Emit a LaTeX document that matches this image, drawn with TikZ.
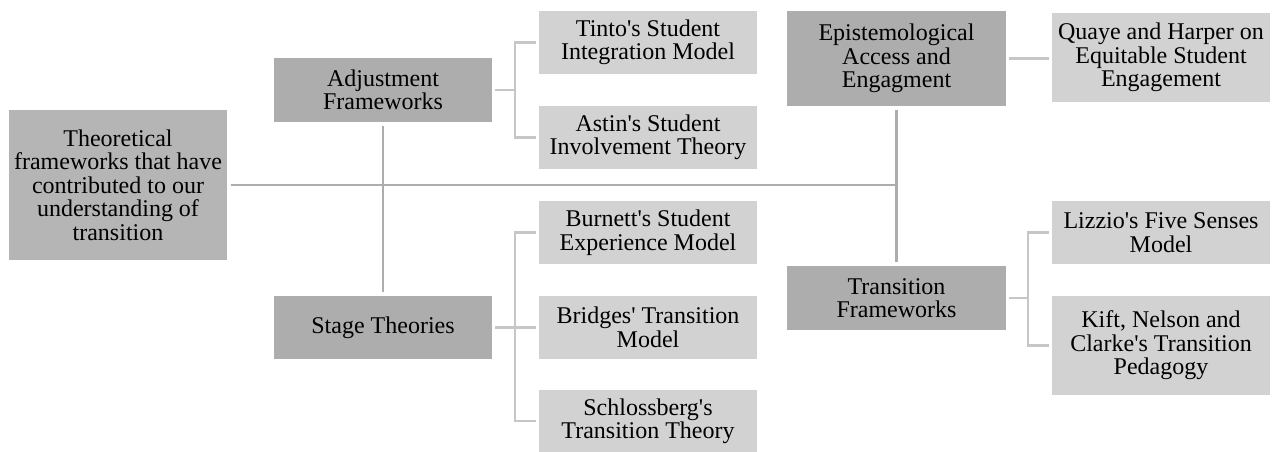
\documentclass[tikz,border=0pt]{standalone}
\usepackage{fontspec}
\setmainfont{Liberation Serif}[Ligatures=TeXOff]
\definecolor{darkbox}{HTML}{ADADAD}
\definecolor{rootbox}{HTML}{B5B5B5}
\definecolor{lightbox}{HTML}{D2D2D2}
\definecolor{mainln}{HTML}{ADADAD}
\definecolor{brln}{HTML}{C6C6C6}
\begin{document}
\begin{tikzpicture}[x=0.75pt,y=-0.75pt,
  base/.style={rectangle, inner sep=0pt, align=center, text=black,
    font=\fontsize{18}{17.6}\selectfont},
  dbox/.style={base, fill=darkbox},
  rbox/.style={base, fill=rootbox},
  lbox/.style={base, fill=lightbox},
  mainline/.style={draw=mainln, line width=2pt, shorten <=2.5pt, shorten >=2.5pt},
  brline/.style={draw=brln, line width=1.6pt, shorten <=2.2pt, shorten >=2.2pt}]
\useasboundingbox (0,0) rectangle (1280,452);
% nodes
\node[rbox, minimum width=218*0.75pt, minimum height=150*0.75pt] (root) at (118,185)
  {Theoretical\\frameworks that have\\contributed to our\\understanding of\\transition};
\node[dbox, minimum width=218*0.75pt, minimum height=64*0.75pt] (adj) at (383,90)
  {Adjustment\\Frameworks};
\node[dbox, minimum width=218*0.75pt, minimum height=63*0.75pt] (stage) at (383,327.5)
  {Stage Theories};
\node[lbox, minimum width=218*0.75pt, minimum height=63*0.75pt] (tinto) at (648,42.5)
  {Tinto's Student\\Integration Model};
\node[lbox, minimum width=218*0.75pt, minimum height=63*0.75pt] (astin) at (648,137.5)
  {Astin's Student\\Involvement Theory};
\node[lbox, minimum width=218*0.75pt, minimum height=63*0.75pt] (burnett) at (648,232.5)
  {Burnett's Student\\Experience Model};
\node[lbox, minimum width=218*0.75pt, minimum height=63*0.75pt] (bridges) at (648,327.5)
  {Bridges' Transition\\Model};
\node[lbox, minimum width=218*0.75pt, minimum height=62*0.75pt] (schloss) at (648,421)
  {Schlossberg's\\Transition Theory};
\node[dbox, minimum width=219*0.75pt, minimum height=95*0.75pt] (epist) at (896.5,58.5)
  {Epistemological\\Access and\\Engagment};
\node[lbox, minimum width=218*0.75pt, minimum height=89*0.75pt] (quaye) at (1161,57.5)
  {Quaye and Harper on\\Equitable Student\\Engagement};
\node[dbox, minimum width=219*0.75pt, minimum height=64*0.75pt] (trans) at (896.5,298)
  {Transition\\Frameworks};
\node[lbox, minimum width=218*0.75pt, minimum height=63*0.75pt] (lizzio) at (1161,232.5)
  {Lizzio's Five Senses\\Model};
\node[lbox, minimum width=218*0.75pt, minimum height=99*0.75pt] (kift) at (1161,345.5)
  {Kift, Nelson and\\Clarke's Transition\\Pedagogy};
% main connectors
\draw[mainline, shorten >=0pt] (root.east) -- (root.east -| epist.south);
\draw[mainline] (adj.south) -- (stage.north);
\draw[mainline] (epist.south) -- (trans.north);
% brackets
\draw[brline] (adj.east) -- ++(23,0) |- (tinto.west);
\draw[brline] (adj.east) -- ++(23,0) |- (astin.west);
\draw[brline] (stage.east) -- ++(23,0) |- (burnett.west);
\draw[brline] (stage.east) -- (stage.east -| bridges.west);
\draw[brline] (stage.east) -- ++(23,0) |- (schloss.west);
\draw[brline] (epist.east) -- (epist.east -| quaye.west);
\draw[brline] (trans.east) -- ++(22,0) |- (lizzio.west);
\draw[brline] (trans.east) -- ++(22,0) |- (kift.west);
\end{tikzpicture}
\end{document}
